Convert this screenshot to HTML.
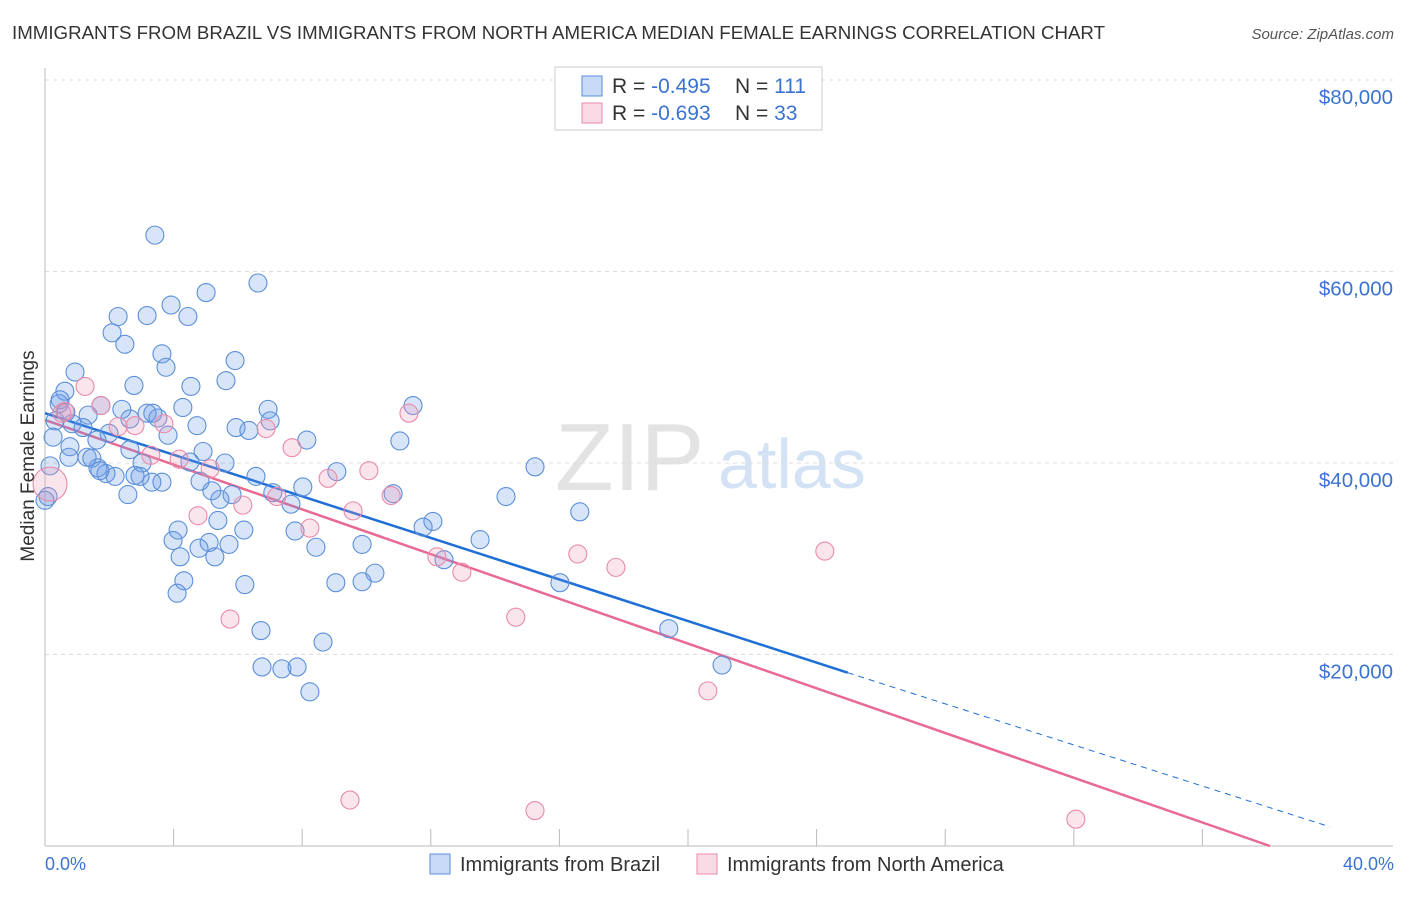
<!DOCTYPE html>
<html><head><meta charset="utf-8"><style>
body{margin:0;background:#fff;font-family:"Liberation Sans",sans-serif}
svg text{font-family:"Liberation Sans",sans-serif}
</style></head><body>
<svg width="1406" height="892" xmlns="http://www.w3.org/2000/svg">
<text x="12" y="39" font-size="18" fill="#333" textLength="1093" lengthAdjust="spacingAndGlyphs">IMMIGRANTS FROM BRAZIL VS IMMIGRANTS FROM NORTH AMERICA MEDIAN FEMALE EARNINGS CORRELATION CHART</text>
<text x="1394" y="39" font-size="15" fill="#555" font-style="italic" text-anchor="end">Source: ZipAtlas.com</text>
<g>
<text x="555" y="490" font-size="96" font-family="Liberation Serif,serif" fill="#ddd" opacity="0.8">ZIP</text>
<text x="718" y="488" font-size="70" fill="#c9dcf2" opacity="0.8">atlas</text>
</g>
<g id="grid"></g>
<g id="axes"></g>
<g id="lines"></g>
<g id="pts"></g>
<text transform="translate(34,456) rotate(-90)" font-size="19" fill="#333" text-anchor="middle">Median Female Earnings</text>
<text x="45" y="870" font-size="18" fill="#3b73d1">0.0%</text>
<text x="1394" y="870" font-size="18" fill="#3b73d1" text-anchor="end">40.0%</text>
<g>
<rect x="555" y="67" width="267" height="63" fill="#fff" stroke="#ccc"/>
<rect x="582" y="76" width="20" height="20" fill="rgba(100,150,230,0.35)" stroke="#5b8fd9"/>
<rect x="582" y="103" width="20" height="20" fill="rgba(240,150,180,0.35)" stroke="#e98aa8"/>
<text x="612" y="93" font-size="21" fill="#333">R = <tspan fill="#3b73d1">-0.495</tspan></text>
<text x="735" y="93" font-size="21" fill="#333">N = <tspan fill="#3b73d1">111</tspan></text>
<text x="612" y="120" font-size="21" fill="#333">R = <tspan fill="#3b73d1">-0.693</tspan></text>
<text x="735" y="120" font-size="21" fill="#333">N = <tspan fill="#3b73d1"> 33</tspan></text>
</g>
<g>
<rect x="430" y="854" width="20" height="20" fill="rgba(100,150,230,0.35)" stroke="#5b8fd9"/>
<text x="460" y="871" font-size="20" fill="#333">Immigrants from Brazil</text>
<rect x="697" y="854" width="20" height="20" fill="rgba(240,150,180,0.35)" stroke="#e98aa8"/>
<text x="727" y="871" font-size="20" fill="#333">Immigrants from North America</text>
</g>
</svg>
<script>
const yTicks=[20,40,60,80];
const yTickLabels=["$20,000","$40,000","$60,000","$80,000"];
const blueX=[3.26,6.32,4.78,3.74,2.17,3.03,4.24,1.99,2.37,3.47,5.64,3.59,0.89,5.37,2.64,4.33,0.59,0.45,1.66,4.09,2.28,3.03,3.20,6.62,10.92,0.62,1.28,2.52,3.35,0.30,0.80,1.13,4.51,5.67,6.05,6.68,1.90,3.65,0.24,1.54,7.77,10.53,4.69,0.74,2.52,1.25,1.39,2.88,0.71,5.34,4.30,14.54,1.57,1.81,1.63,2.08,2.82,6.26,8.66,0.15,3.17,3.47,4.60,4.95,7.65,6.76,5.55,5.19,2.46,10.33,13.68,0.09,7.30,5.90,5.13,11.51,11.22,15.87,3.95,7.42,3.80,4.87,5.46,4.57,8.04,9.41,12.91,4.01,5.04,11.84,9.79,4.12,9.41,5.93,15.28,8.63,3.92,8.25,6.41,18.51,20.09,6.44,7.03,7.48,7.86,0.0,2.67,0.42];
const blueY=[63.8,58.8,57.8,56.5,55.3,55.4,55.3,53.6,52.4,51.4,50.7,50.0,49.5,48.6,48.1,48.0,47.5,46.6,46.0,45.8,45.6,45.2,45.2,45.6,46.0,45.3,45.0,44.6,44.7,44.4,44.1,43.7,43.9,43.7,43.4,44.4,43.1,42.9,42.7,42.4,42.4,42.3,41.2,41.7,41.4,40.6,40.5,40.0,40.6,40.0,40.1,39.6,39.5,38.9,39.2,38.6,38.6,38.6,39.1,39.7,38.0,38.0,38.1,37.1,37.5,36.9,36.7,36.2,36.7,36.8,36.5,36.5,35.7,33.0,34.0,33.9,33.3,34.9,33.0,32.9,31.9,31.7,31.5,31.1,31.2,31.5,32.0,30.2,30.2,29.9,28.5,27.7,27.6,27.3,27.5,27.5,26.4,21.3,22.5,22.7,18.9,18.7,18.5,18.7,16.1,36.1,38.7,46.2];
const pinkX=[0.15,1.19,1.66,0.59,2.67,3.53,2.17,3.98,4.90,6.56,7.33,5.87,6.88,4.54,7.86,8.40,9.14,9.61,10.27,10.80,11.63,12.37,13.97,15.81,16.94,5.49,19.67,23.14,9.05,14.54,30.59,3.14,0.50];
const pinkY=[37.8,48.0,46.0,45.4,43.9,44.1,43.8,40.4,39.4,43.6,41.6,35.6,36.5,34.5,33.2,38.4,35.0,39.2,36.6,45.2,30.2,28.6,23.9,30.5,29.1,23.7,16.2,30.8,4.8,3.7,2.8,40.8,45.2];
const blueTrend=[[0,45.2],[23.82,18.1],[38.13,2.0]];
const pinkTrend=[[0,44.5],[36.35,0]];
const NS="http://www.w3.org/2000/svg";
const X0=45,X1=1393,Y0=846,YK=9.575;
const xs=v=>X0+(X1-X0)*v/40, ys=v=>Y0-v*YK;
function mk(t,a,p){const e=document.createElementNS(NS,t);for(const k in a)e.setAttribute(k,a[k]);document.getElementById(p).appendChild(e);return e;}
yTicks.forEach((t,i)=>{
 const g=mk('line',{x1:45,x2:1393,y1:ys(t),y2:ys(t),stroke:'#ddd','stroke-dasharray':'4,4'},'grid');
 
 
 const tx=mk('text',{x:1393,y:ys(t)+24,'font-size':20.5,fill:'#3b73d1','text-anchor':'end'},'grid');
 tx.textContent=yTickLabels[i];
 
 
});
const ya=mk('line',{x1:45,x2:45,y1:68,y2:846,stroke:'#bbb'},'axes');


const xa=mk('line',{x1:45,x2:1393,y1:846,y2:846,stroke:'#bbb'},'axes');


for(let i=1;i<=9;i++){const tk=mk('line',{x1:45+i*128.6,x2:45+i*128.6,y1:829,y2:846,stroke:'#bbb'},'axes');
 
 }
const bl=mk('line',{x1:xs(blueTrend[0][0]),y1:ys(blueTrend[0][1]),x2:xs(blueTrend[1][0]),y2:ys(blueTrend[1][1]),stroke:'#1f6fd6','stroke-width':2.5},'lines');


const bd=mk('line',{x1:xs(blueTrend[1][0]),y1:ys(blueTrend[1][1]),x2:xs(blueTrend[2][0]),y2:ys(blueTrend[2][1]),stroke:'#1f6fd6','stroke-width':1,'stroke-dasharray':'6,5'},'lines');


const pl=mk('line',{x1:xs(pinkTrend[0][0]),y1:ys(pinkTrend[0][1]),x2:xs(pinkTrend[1][0]),y2:ys(pinkTrend[1][1]),stroke:'#e86a92','stroke-width':2.5},'lines');


blueX.forEach((v,i)=>{const c=mk('circle',{cx:xs(v),cy:ys(blueY[i]),r:9,fill:'rgba(100,150,230,0.25)',stroke:'#5b8fd9','stroke-width':1.1},'pts');
 
 });
pinkX.forEach((v,i)=>{const c=mk('circle',{cx:xs(v),cy:ys(pinkY[i]),r:i===0?17:9,fill:'rgba(240,150,180,0.25)',stroke:'#e98aa8','stroke-width':1.1},'pts');
 
 });
</script>
</body></html>
